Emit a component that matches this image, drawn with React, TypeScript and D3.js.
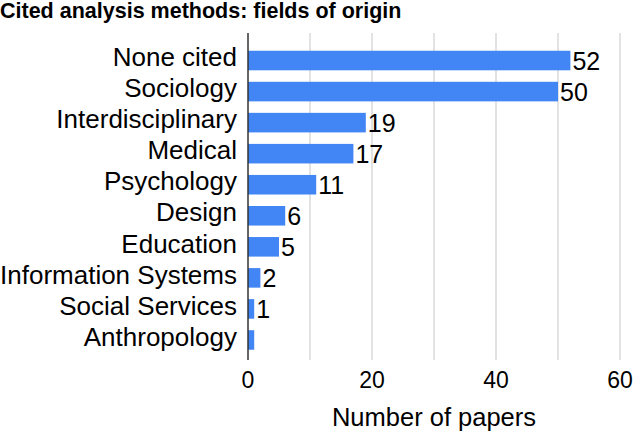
import React from "react";
import * as d3 from "d3";

const categories = [
  "None cited",
  "Sociology",
  "Interdisciplinary",
  "Medical",
  "Psychology",
  "Design",
  "Education",
  "Information Systems",
  "Social Services",
  "Anthropology",
];
const values = [52, 50, 19, 17, 11, 6, 5, 2, 1, 1];
const valueLabels = ["52", "50", "19", "17", "11", "6", "5", "2", "1", ""];
const gridTicks = [0, 10, 20, 30, 40, 50, 60];
const labelTicks = [0, 20, 40, 60];
const title = "Cited analysis methods: fields of origin";
const xTitle = "Number of papers";

const W = 633;
const H = 432;
const FONT = "'Liberation Sans', Arial, Helvetica, sans-serif";

export default function App() {
  const x = d3.scaleLinear().domain([0, 60]).range([248, 620]);
  const y = d3
    .scaleBand<string>()
    .domain(categories)
    .range([45, 355.5])
    .paddingInner(0.37)
    .paddingOuter(0.185);
  const bw = y.bandwidth();
  return (
    <svg
      width={W}
      height={H}
      style={{ position: "absolute", left: 0, top: 0, background: "#fff" }}
      fontFamily={FONT}
    >
      <text x={0} y={17.5} fontSize={21.5} fontWeight="bold" fill="#000">
        {title}
      </text>
      {gridTicks
        .filter((t) => t !== 0)
        .map((t) => (
          <line
            key={t}
            x1={x(t)}
            x2={x(t)}
            y1={33}
            y2={360}
            stroke="#d9d9d9"
            strokeWidth={1.5}
          />
        ))}
      {categories.map((c, i) => (
        <g key={c}>
          <rect
            x={x(0)}
            y={y(c)!}
            width={x(values[i]) - x(0)}
            height={bw}
            fill="#4285f4"
          />
          <text
            x={237}
            y={y(c)! + bw / 2}
            dy="0.22em"
            textAnchor="end"
            fontSize={26}
            fill="#000"
          >
            {c}
          </text>
          {valueLabels[i] && (
            <text
              x={x(values[i]) + 2}
              y={y(c)! + bw / 2}
              dy="0.36em"
              fontSize={25}
              fill="#000"
            >
              {valueLabels[i]}
            </text>
          )}
        </g>
      ))}
      <line x1={x(0)} x2={x(0)} y1={33} y2={360} stroke="#333" strokeWidth={1.5} />
      {labelTicks.map((t) => (
        <text key={t} x={x(t)} y={388} textAnchor="middle" fontSize={23} fill="#000">
          {t}
        </text>
      ))}
      <text x={x(30)} y={426} textAnchor="middle" fontSize={25.5} fill="#000">
        {xTitle}
      </text>
    </svg>
  );
}
